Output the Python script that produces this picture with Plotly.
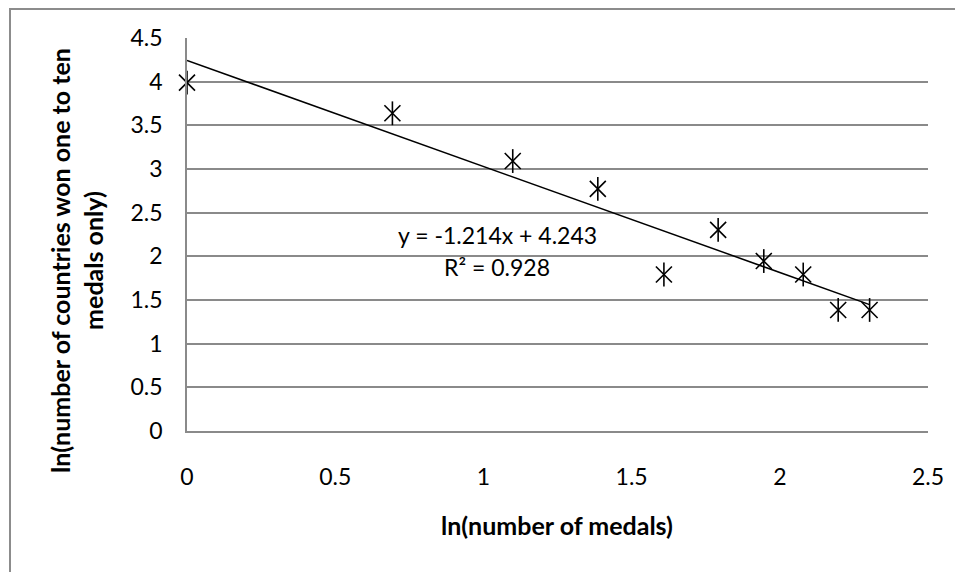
import plotly.graph_objects as go

# ln(number of medals)
x_vals = [0.000, 0.693, 1.099, 1.386, 1.609, 1.792, 1.946, 2.079, 2.197, 2.303]
# ln(number of countries that won exactly that many medals)
y_vals = [3.989, 3.638, 3.091, 2.773, 1.792, 2.303, 1.946, 1.792, 1.386, 1.386]

trend_slope = -1.214
trend_intercept = 4.243
r_squared = 0.928

x_ticks = [0, 0.5, 1, 1.5, 2, 2.5]
y_ticks = [0, 0.5, 1, 1.5, 2, 2.5, 3, 3.5, 4, 4.5]

FONT = "Lato"
GRID = "#8a8a8a"

trend_x = [0.0, max(x_vals)]
trend_y = [trend_slope * v + trend_intercept for v in trend_x]

fig = go.Figure()
fig.add_trace(go.Scatter(x=trend_x, y=trend_y, mode="lines",
                         line=dict(color="black", width=1.5),
                         hoverinfo="skip", showlegend=False, cliponaxis=False))
fig.add_trace(go.Scatter(x=x_vals, y=y_vals, mode="markers", cliponaxis=False,
                         marker=dict(symbol="x-thin-open", size=16, color="black",
                                     line=dict(color="black", width=1.6)),
                         showlegend=False))
fig.add_trace(go.Scatter(x=x_vals, y=y_vals, mode="markers", cliponaxis=False,
                         marker=dict(symbol="line-ns-open", size=17, color="black",
                                     line=dict(color="black", width=1.6)),
                         showlegend=False, hoverinfo="skip"))

fig.update_xaxes(range=[0, 2.5], tickvals=x_ticks,
                 ticktext=[f"{t:g}" for t in x_ticks],
                 showgrid=False, zeroline=False,
                 showline=True, linecolor=GRID, linewidth=1.5,
                 ticks="", ticklabelstandoff=25,
                 tickfont=dict(family=FONT, size=23, color="black"))
fig.update_yaxes(range=[0, 4.5], tickvals=y_ticks,
                 ticktext=[f"{t:g}" for t in y_ticks],
                 showgrid=True, gridcolor=GRID, gridwidth=1.5,
                 zeroline=False,
                 showline=True, linecolor=GRID, linewidth=1.5,
                 ticks="", ticklabelstandoff=18,
                 tickfont=dict(family=FONT, size=23, color="black"))

OFF = 8  # page body margin
W, H = 963 - OFF, 572 - OFF
L, R, T = 187 - OFF, 35, 38 - OFF
B = H - (431 - OFF)
pw, ph = W - L - R, H - T - B

def px_x(p):
    return (p - OFF - L) / pw

def px_y(p):
    return (H - B - (p - OFF)) / ph

annotations = [
    dict(text=f"y = {trend_slope:.3f}x + {trend_intercept:.3f}",
         x=px_x(497), y=px_y(235), xref="paper", yref="paper",
         showarrow=False, xanchor="center", yanchor="middle",
         font=dict(family=FONT, size=23, color="black")),
    dict(text=f"R² = {r_squared:.3f}",
         x=px_x(497), y=px_y(267), xref="paper", yref="paper",
         showarrow=False, xanchor="center", yanchor="middle",
         font=dict(family=FONT, size=23, color="black")),
    dict(text="<b>ln(number of medals)</b>",
         x=px_x(557), y=px_y(525), xref="paper", yref="paper",
         showarrow=False, xanchor="center", yanchor="middle",
         font=dict(family=FONT, size=25, color="black")),
    dict(text="<b>ln(number of countries won one to ten<br>medals only)</b>",
         x=px_x(76), y=px_y(261), xref="paper", yref="paper",
         showarrow=False, xanchor="center", yanchor="middle",
         textangle=-90, align="center",
         font=dict(family=FONT, size=25, color="black")),
]

fig.update_layout(
    width=W, height=H,
    margin=dict(l=L, r=R, t=T, b=B, pad=0),
    paper_bgcolor="white", plot_bgcolor="white",
    annotations=annotations,
    shapes=[dict(type="rect", xref="paper", yref="paper",
                 x0=px_x(10), x1=px_x(1100), y0=px_y(700), y1=px_y(9),
                 line=dict(color="#8c8c8c", width=2), layer="below")],
)

fig.write_html("out.html")
